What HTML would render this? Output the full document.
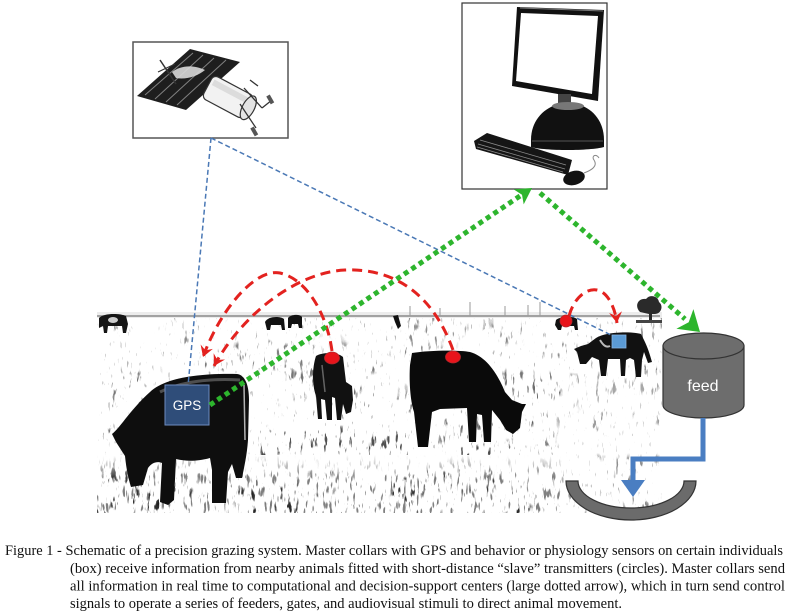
<!DOCTYPE html>
<html>
<head>
<meta charset="utf-8">
<style>
  html,body{margin:0;padding:0;background:#fff;}
  svg{display:block;}
  .cap{font-family:"Liberation Serif","Times New Roman",serif;font-size:14.5px;fill:#111;}
</style>
</head>
<body>
<svg width="795" height="616" viewBox="0 0 795 616" xmlns="http://www.w3.org/2000/svg">
  <defs>
    <filter id="gr" x="0" y="0" width="1" height="1" filterUnits="objectBoundingBox" color-interpolation-filters="sRGB">
      <feTurbulence type="fractalNoise" baseFrequency="0.25 0.06" numOctaves="3" seed="7" result="t1"/>
      <feColorMatrix in="t1" type="matrix" values="0 0 0 0 0.08  0 0 0 0 0.08  0 0 0 0 0.08  -11 0 0 0 4.0" result="s"/>
      <feTurbulence type="fractalNoise" baseFrequency="0.018 0.035" numOctaves="2" seed="3" result="t2"/>
      <feColorMatrix in="t2" type="matrix" values="0 0 0 0 0  0 0 0 0 0  0 0 0 0 0  -12 0 0 0 6.2" result="m"/>
      <feComposite in="s" in2="m" operator="in"/>
    </filter>
    <filter id="gr3" x="0" y="0" width="1" height="1" filterUnits="objectBoundingBox" color-interpolation-filters="sRGB">
      <feTurbulence type="fractalNoise" baseFrequency="0.3 0.07" numOctaves="2" seed="11"/>
      <feColorMatrix type="matrix" values="0 0 0 0 0.1  0 0 0 0 0.1  0 0 0 0 0.1  -12 0 0 0 4.4"/>
    </filter>
    <filter id="gr2" x="0" y="0" width="1" height="1" filterUnits="objectBoundingBox" color-interpolation-filters="sRGB">
      <feTurbulence type="fractalNoise" baseFrequency="0.45 0.1" numOctaves="2" seed="21"/>
      <feColorMatrix type="matrix" values="0 0 0 0 0  0 0 0 0 0  0 0 0 0 0  -16 0 0 0 4.4"/>
    </filter>
    <linearGradient id="fadeTop" x1="0" y1="0" x2="0" y2="1">
      <stop offset="0" stop-color="#fff" stop-opacity="0.5"/>
      <stop offset="0.5" stop-color="#fff" stop-opacity="0.25"/>
      <stop offset="1" stop-color="#fff" stop-opacity="0"/>
    </linearGradient>
    <linearGradient id="botBand" x1="0" y1="0" x2="0" y2="1">
      <stop offset="0" stop-color="#fff" stop-opacity="1"/>
      <stop offset="1" stop-color="#fff" stop-opacity="0"/>
    </linearGradient>
    <marker id="ra" viewBox="-12 -8 14 16" markerWidth="14" markerHeight="16" refX="0" refY="0" orient="auto" markerUnits="userSpaceOnUse">
      <path d="M0,0 L-11,-6.5 L-7,0 L-11,6.5 Z" fill="#e3221f"/>
    </marker>
  </defs>

  <rect width="795" height="616" fill="#fff"/>

  <!-- ===== Satellite box ===== -->
  <rect x="133" y="42" width="155" height="96" fill="#fff" stroke="#555" stroke-width="1.5"/>
  <polygon points="137,96 186,110 240,62 190,49" fill="#1e1e1e"/>
  <g stroke="#9a9a9a" stroke-width="1" opacity="0.8">
    <line x1="145" y1="95" x2="193" y2="53"/>
    <line x1="155" y1="99" x2="203" y2="55"/>
    <line x1="166" y1="102" x2="214" y2="58"/>
    <line x1="177" y1="105" x2="226" y2="60"/>
  </g>
  <path d="M172,72 C180,66 192,64 205,70 C198,76 186,80 176,78 Z" fill="#d8d8d8" opacity="0.9"/>
  <line x1="160" y1="60" x2="176" y2="84" stroke="#333" stroke-width="1.5"/>
  <line x1="158" y1="72" x2="175" y2="64" stroke="#333" stroke-width="1.2"/>
  <g transform="rotate(28 228 97)">
    <rect x="205" y="84" width="46" height="26" rx="5" fill="#f2f2f2" stroke="#333" stroke-width="1.2"/>
    <rect x="208" y="88" width="38" height="6" fill="#dcdcdc"/>
    <ellipse cx="251" cy="97" rx="6" ry="13" fill="#e4e4e4" stroke="#333" stroke-width="1.2"/>
  </g>
  <g stroke="#333" stroke-width="1.3" fill="none">
    <line x1="244" y1="88" x2="262" y2="108"/>
    <line x1="262" y1="108" x2="272" y2="100"/>
    <line x1="240" y1="104" x2="256" y2="128"/>
    <line x1="250" y1="80" x2="258" y2="86"/>
  </g>
  <rect x="268" y="95" width="4" height="9" fill="#555" transform="rotate(-30 270 99)"/>
  <rect x="252" y="127" width="4" height="9" fill="#555" transform="rotate(-30 254 131)"/>

  <!-- ===== Computer box ===== -->
  <rect x="462" y="3" width="145" height="186" fill="#fff" stroke="#333" stroke-width="1.2"/>
  <polygon points="517,7 604,10 598,101 512,86" fill="#111"/>
  <polygon points="521,13 598,16 592,94 516,81" fill="#fff"/>
  <line x1="520" y1="8" x2="603" y2="11" stroke="#777" stroke-width="1"/>
  <rect x="558" y="94" width="13" height="12" fill="#444"/>
  <path d="M531,140 C531,117 549,103 568,103 C587,103 604,117 604,140 L604,147 C590,151 545,151 531,147 Z" fill="#111"/>
  <ellipse cx="568" cy="106" rx="16" ry="4" fill="#777"/>
  <line x1="532" y1="141" x2="603" y2="141" stroke="#555" stroke-width="1"/>
  <polygon points="487,133 572,160 568,175 476,149 474,141" fill="#151515"/>
  <g stroke="#8a8a8a" stroke-width="0.8">
    <line x1="480" y1="140" x2="566" y2="165"/>
    <line x1="478" y1="144" x2="565" y2="169"/>
    <line x1="477" y1="147" x2="563" y2="172"/>
  </g>
  <ellipse cx="574" cy="178" rx="11" ry="7" fill="#111" transform="rotate(-15 574 178)"/>
  <path d="M584,173 C592,170 598,166 594,160 C591,156 596,153 599,158" stroke="#888" stroke-width="1" fill="none"/>

  <!-- ===== Field ===== -->
  <rect x="97" y="318" width="565" height="195" filter="url(#gr)" opacity="0.9"/>
  <rect x="97" y="318" width="565" height="195" filter="url(#gr2)" opacity="0.45"/>
  <rect x="97" y="318" width="565" height="195" fill="url(#fadeTop)"/>
  <!-- denser bottom band -->
  <rect x="97" y="455" width="470" height="58" filter="url(#gr3)" opacity="0.55"/>
  <rect x="97" y="455" width="470" height="22" fill="url(#botBand)"/>
  <rect x="560" y="370" width="102" height="145" fill="#fff" opacity="0.4"/>
  <!-- horizon -->
  <rect x="97" y="312" width="565" height="6" fill="#e0e0e0" opacity="0.6"/>
  <line x1="97" y1="316" x2="660" y2="316" stroke="#8a8a8a" stroke-width="1.6"/>
  <g stroke="#999" stroke-width="1">
    <line x1="410" y1="306" x2="410" y2="316"/>
    <line x1="440" y1="308" x2="440" y2="316"/>
    <line x1="470" y1="302" x2="470" y2="316"/>
    <line x1="505" y1="306" x2="505" y2="316"/>
    <line x1="528" y1="305" x2="528" y2="316"/>
    <line x1="540" y1="302" x2="540" y2="316"/>
  </g>
  <!-- tree -->
  <path d="M640,312 C634,306 638,298 646,299 C650,294 658,296 659,302 C664,306 661,314 655,314 L652,314 L652,321 L649,321 L649,314 Z" fill="#2a2a2a"/>
  <rect x="636" y="320" width="26" height="3" fill="#444"/>

  <!-- small background cows -->
  <path d="M99,318 C103,313 120,313 126,316 L128,324 L126,333 L123,333 L122,326 L108,326 L107,333 L104,333 L103,326 L99,328 Z" fill="#151515"/>
  <ellipse cx="113" cy="320" rx="5" ry="3" fill="#ccc"/>
  <path d="M265,322 C268,316 280,316 284,319 L285,330 L282,330 L281,325 L271,325 L270,330 L267,330 Z" fill="#111"/>
  <path d="M288,318 C291,314 300,314 302,317 L302,328 L299,328 L298,324 L292,324 L291,328 L288,328 Z" fill="#111"/>
  <path d="M393,316 L398,315 L401,326 L398,329 L395,322 Z" fill="#111"/>
  <path d="M556,320 C560,316 574,316 577,319 L578,330 L575,330 L574,326 L562,326 L561,330 L558,330 L555,325 Z" fill="#111"/>

  <!-- cow 1 (GPS) -->
  <path d="M150,392 C162,380 192,373 237,374 C245,375 249,385 249,400 L248,440 C247,455 244,468 242,478 L236,478 L232,464 L228,472 L226,503 L212,503 L212,470 L210,458 C195,462 185,461 176,459 L174,500 L168,505 L160,502 L162,463 C158,461 152,462 148,468 L143,485 L131,487 C128,478 126,466 125,456 L116,442 L112,434 C120,428 130,410 150,392 Z" fill="#0e0e0e"/>
  <path d="M160,392 C180,382 210,378 240,380" stroke="#6a6a6a" stroke-width="3" fill="none" opacity="0.7"/>
  <path d="M244,385 L245,440" stroke="#ddd" stroke-width="1.5" fill="none" opacity="0.8"/>
  <!-- cow 2 -->
  <path d="M316,356 C322,352 338,352 343,357 L346,382 L352,386 L353,400 L351,412 L346,414 L343,404 L341,420 L337,420 L335,398 L332,397 L332,420 L327,420 L325,400 L321,399 L322,419 L318,419 L316,396 C312,385 312,368 316,356 Z" fill="#111"/>
  <path d="M322,365 L325,392" stroke="#888" stroke-width="1.5" opacity="0.7"/>
  <!-- cow 3 -->
  <path d="M412,353 C430,350 460,350 470,352 C485,356 497,372 505,392 L512,400 L522,404 L526,404 L522,412 L520,428 L513,434 L506,430 L500,420 L492,410 L491,442 L484,442 L482,415 L477,414 L476,442 L469,442 L467,408 L440,409 L432,412 L428,447 L418,447 L414,412 C410,400 409,380 410,365 Z" fill="#0a0a0a"/>
  <!-- cow 4 -->
  <path d="M596,338 C605,332 630,331 641,334 L644,340 C648,348 650,355 652,362 L648,363 L644,352 L642,360 L641,377 L636,377 L634,360 L630,358 L626,360 L625,376 L621,376 L620,359 L608,359 L606,376 L601,376 L599,360 L592,357 L586,364 L580,364 L577,352 L574,349 L581,346 L588,344 Z" fill="#111"/>
  <path d="M600,340 C603,345 606,348 610,346" stroke="#bbb" stroke-width="2" fill="none"/>

  <!-- ===== Blue dashed lines ===== -->
  <g stroke="#4a78b5" stroke-width="1.5" stroke-dasharray="5 3" fill="none">
    <line x1="211" y1="138" x2="188" y2="386"/>
    <line x1="211" y1="138" x2="613" y2="336"/>
  </g>

  <!-- GPS box -->
  <rect x="165" y="385" width="44" height="40" fill="#2f4d79" stroke="#6d8cc0" stroke-width="1"/>
  <text x="187" y="410" text-anchor="middle" font-family="Liberation Sans, Arial, sans-serif" font-size="13.5" fill="#fff">GPS</text>
  <!-- blue square on cow 4 -->
  <rect x="612" y="335" width="14" height="13" fill="#5b9bd5" stroke="#86b4e2" stroke-width="0.8"/>

  <!-- ===== Red dashed arcs ===== -->
  <g stroke="#e3221f" stroke-width="3" stroke-dasharray="10 6" fill="none" marker-end="url(#ra)">
    <path d="M332,351 C328,320 310,280 280,273 C255,268 220,310 203,357"/>
    <path d="M453,350 C435,300 400,268 345,270 C300,272 245,310 214,366"/>
    <path d="M569,316 C574,298 586,288 597,290 C608,292 615,308 617,323"/>
  </g>
  <ellipse cx="332" cy="358" rx="7.5" ry="6" fill="#e8141b" stroke="#b0282c" stroke-width="0.8"/>
  <ellipse cx="453" cy="357" rx="7.5" ry="6" fill="#e8141b" stroke="#b0282c" stroke-width="0.8"/>
  <ellipse cx="566" cy="321" rx="6" ry="6" fill="#e8141b" stroke="#b0282c" stroke-width="0.8"/>

  <!-- ===== Green dotted arrows ===== -->
  <g stroke="#2db52d" stroke-width="5" stroke-dasharray="5 4" fill="none">
    <line x1="210" y1="405" x2="520" y2="196"/>
    <line x1="540" y1="193" x2="685" y2="319"/>
  </g>
  <polygon points="532,188 523.7,204.4 522,194.7 513.7,189.4" fill="#2db52d"/>
  <polygon points="700,332 676.4,328.7 688.7,322.2 693.4,309.1" fill="#2db52d"/>

  <!-- ===== Feed cylinder ===== -->
  <path d="M663,346 L663,405 A40.5,13 0 0 0 744,405 L744,346 Z" fill="#6d6d6d" stroke="#333" stroke-width="1.2"/>
  <ellipse cx="703.5" cy="346" rx="40.5" ry="13" fill="#6d6d6d" stroke="#333" stroke-width="1.2"/>
  <text x="703" y="391" text-anchor="middle" font-family="Liberation Sans, Arial, sans-serif" font-size="16" fill="#fff">feed</text>

  <!-- pipe -->
  <path d="M703,418 L703,459 L633,459 L633,482" stroke="#4a7ec2" stroke-width="5" fill="none"/>
  <polygon points="621,480 645,480 633,497" fill="#4a7ec2"/>

  <!-- trough -->
  <path d="M566,481 A65,39 0 0 0 696,481 L684,481 A53,27 0 0 1 578,481 Z" fill="#6b6b6b" stroke="#333" stroke-width="1.2"/>

  <!-- ===== Caption ===== -->
  <text class="cap" x="5" y="555" textLength="778" lengthAdjust="spacingAndGlyphs">Figure 1 - Schematic of a precision grazing system. Master collars with GPS and behavior or physiology sensors on certain individuals</text>
  <text class="cap" x="70" y="573" textLength="715" lengthAdjust="spacingAndGlyphs">(box) receive information from nearby animals fitted with short-distance “slave” transmitters (circles). Master collars send</text>
  <text class="cap" x="70" y="590.5" textLength="715" lengthAdjust="spacingAndGlyphs">all information in real time to computational and decision-support centers (large dotted arrow), which in turn send control</text>
  <text class="cap" x="70" y="608" textLength="552" lengthAdjust="spacingAndGlyphs">signals to operate a series of feeders, gates, and audiovisual stimuli to direct animal movement.</text>
</svg>
</body>
</html>
